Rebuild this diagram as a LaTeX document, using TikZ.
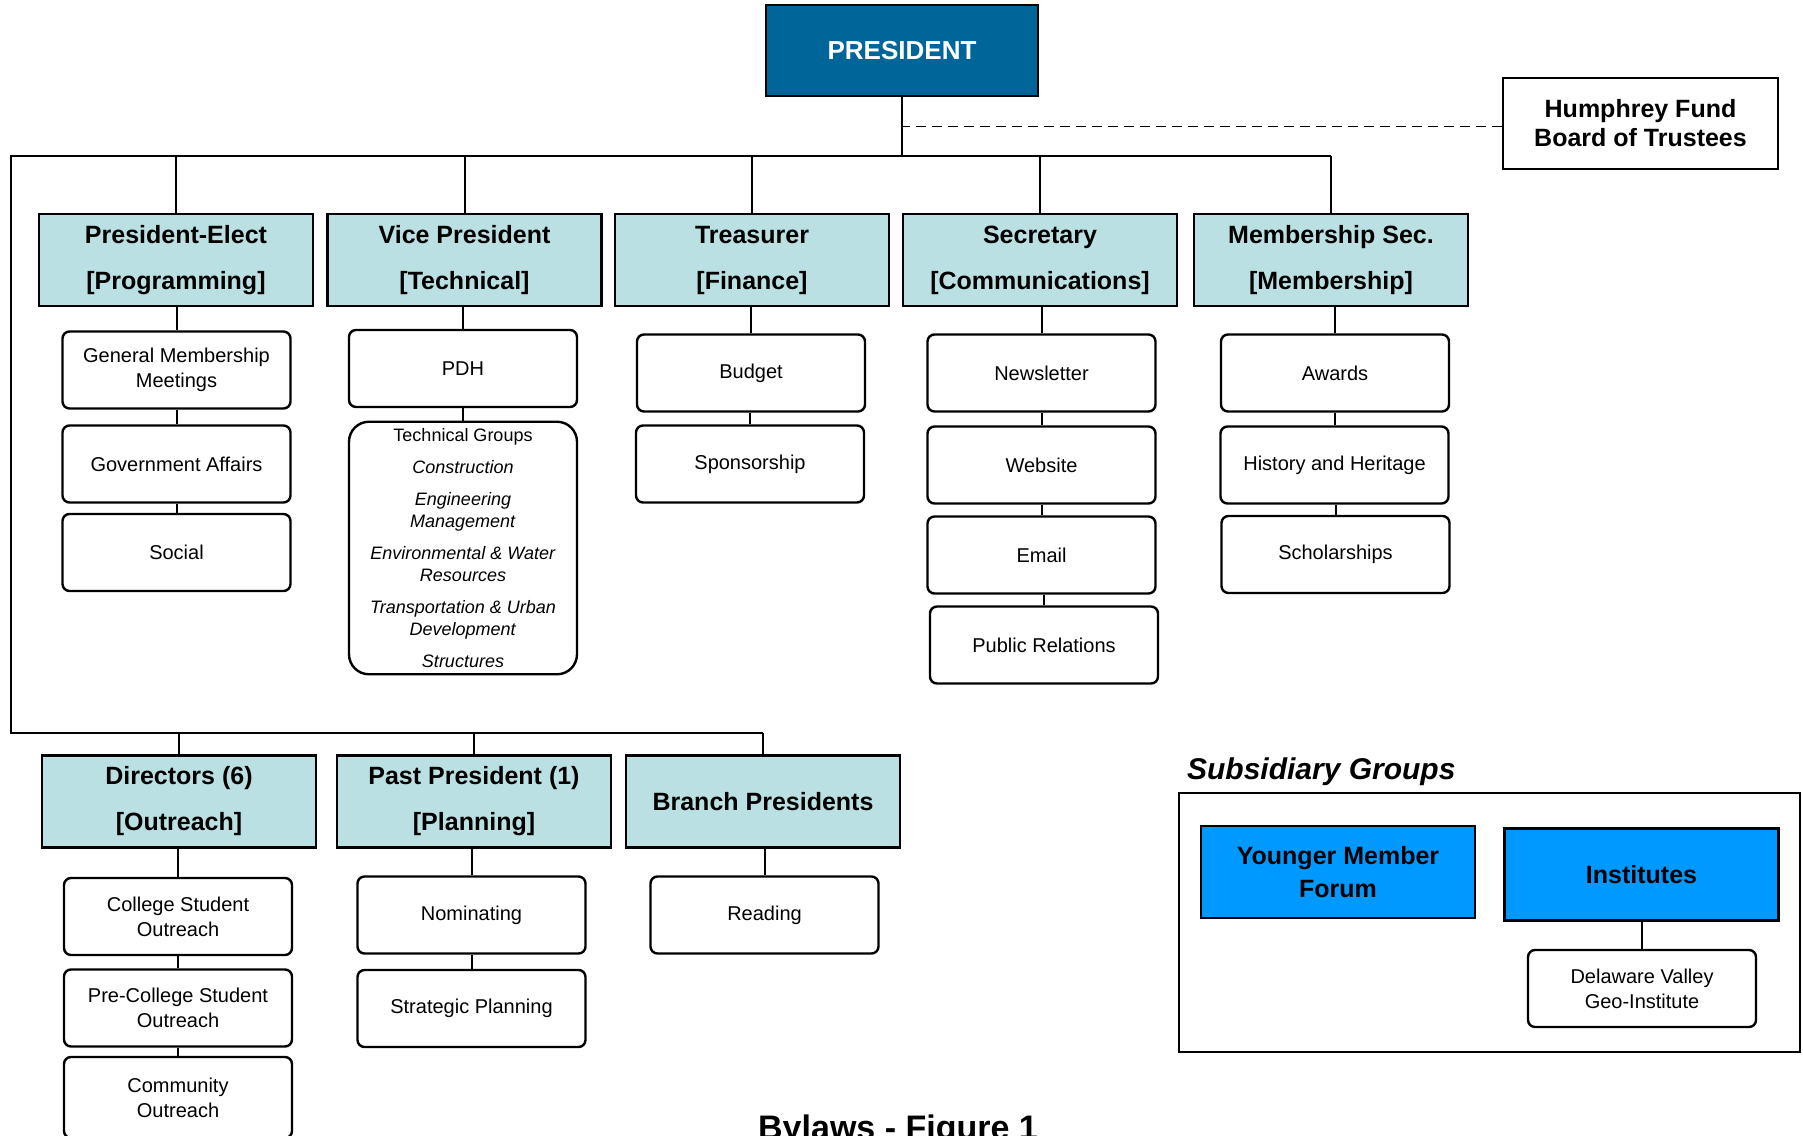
\documentclass[tikz,border=0pt]{standalone}
\usepackage{fontspec}
\setmainfont{Liberation Sans}

\definecolor{presblue}{RGB}{0,102,153}
\definecolor{headcyan}{RGB}{187,224,227}
\definecolor{groupblue}{RGB}{0,153,255}

\tikzset{
	wire/.style={line width=1pt},
	presbox/.style={draw,line width=1.2pt,fill=presblue,text=white,minimum width=136pt,minimum height=45.5pt,font=\fontsize{13}{16}\selectfont\bfseries},
	plainbox/.style={draw,line width=1.2pt,fill=white,minimum width=137.5pt,minimum height=45.5pt,align=center,font=\fontsize{12.5}{14.5}\selectfont\bfseries},
	headbox/.style={draw,line width=1.2pt,fill=headcyan,minimum width=137pt,minimum height=46pt,align=center,font=\fontsize{12.5}{23}\selectfont\bfseries},
	subbox/.style={draw,line width=1.2pt,rounded corners=3.5pt,minimum width=114pt,minimum height=38.5pt,align=center,font=\fontsize{10}{12.5}\selectfont},
	groupbox/.style={draw,line width=1.2pt,fill=groupblue,minimum width=137pt,minimum height=46pt,align=center,font=\fontsize{12.5}{16.5}\selectfont\bfseries}
}

\begin{document}
\begin{tikzpicture}[x=0.5pt,y=-0.5pt]
	\clip (0,0) rectangle (1803,1135);

	\node[presbox] (pres) at (902,50.5) {PRESIDENT};
	\node[plainbox] (hum) at (1640.5,123.5) {Humphrey Fund\\Board of Trustees};

	\node[headbox] (elect) at (176,260) {President-Elect\\{[Programming]}};
	\node[headbox] (vice) at (464.5,260) {Vice President\\{[Technical]}};
	\node[headbox] (treas) at (752,260) {Treasurer\\{[Finance]}};
	\node[headbox] (secr) at (1040,260) {Secretary\\{[Communications]}};
	\node[headbox] (memb) at (1331,260) {Membership Sec.\\{[Membership]}};

	\node[subbox] (gmm) at (176.5,370) {General Membership\\Meetings};
	\node[subbox] (gov) at (176.5,464) {Government Affairs};
	\node[subbox] (social) at (176.5,552.5) {Social};

	\node[subbox] (pdh) at (463,368.5) {PDH};
	\node[subbox,rounded corners=10pt,minimum height=125pt,font=\fontsize{9}{11}\selectfont] (tech) at (463,548) {Technical Groups\\[5pt]\textit{Construction}\\[5pt]\textit{Engineering}\\\textit{Management}\\[5pt]\textit{Environmental \& Water}\\\textit{Resources}\\[5pt]\textit{Transportation \& Urban}\\\textit{Development}\\[5pt]\textit{Structures}};

	\node[subbox] (budget) at (751,373) {Budget};
	\node[subbox] (spons) at (750,464) {Sponsorship};

	\node[subbox] (news) at (1041.5,373) {Newsletter};
	\node[subbox] (web) at (1041.5,465) {Website};
	\node[subbox] (email) at (1041.5,555) {Email};
	\node[subbox] (pr) at (1044,645) {Public Relations};

	\node[subbox] (awards) at (1335,373) {Awards};
	\node[subbox] (hist) at (1334.5,465) {History and Heritage};
	\node[subbox] (schol) at (1335.5,554.5) {Scholarships};

	\node[headbox] (dir) at (179,801.5) {Directors (6)\\{[Outreach]}};
	\node[headbox] (past) at (474,801.5) {Past President (1)\\{[Planning]}};
	\node[headbox] (branch) at (763,801.5) {Branch Presidents};

	\node[subbox] (college) at (178,916.5) {College Student\\Outreach};
	\node[subbox] (precol) at (178,1008) {Pre-College Student\\Outreach};
	\node[subbox,minimum height=40.5pt] (comm) at (178,1097.5) {Community\\Outreach};

	\node[subbox] (nomin) at (471.5,915) {Nominating};
	\node[subbox] (strat) at (471.5,1008.5) {Strategic Planning};

	\node[subbox] (reading) at (764.5,915) {Reading};

	\node[anchor=base west,font=\fontsize{15}{18}\selectfont\bfseries\itshape] (sublabel) at (1180,779) {Subsidiary Groups};
	\draw[line width=1.2pt] (1179,793) rectangle (1800,1052);
	\node[groupbox] (younger) at (1338,872) {Younger Member\\Forum};
	\node[groupbox] (inst) at (1641.5,874.5) {Institutes};
	\node[subbox] (delaware) at (1642,988.5) {Delaware Valley\\Geo-Institute};

	\node[anchor=base,font=\fontsize{17}{20}\selectfont\bfseries] (caption) at (898,1139) {Bylaws - Figure 1};

	\coordinate (top) at (11,156);
	\coordinate (bot) at (11,733);
	\coordinate (dashend) at ([yshift=-1.5pt]hum.west);
	\draw[wire] (memb.north |- top) -- (top) -- (bot) -- (branch.north |- bot);
	\draw[wire] (pres.south) -- (pres.south |- top);
	\draw[wire,dash pattern=on 5pt off 3pt,line width=0.8pt] (dashend) -- (dashend -| pres.south);

	\foreach \n in {elect,vice,treas,secr,memb}
		\draw[wire] (\n.north) -- (\n.north |- top);
	\foreach \n in {dir,past,branch}
		\draw[wire] (\n.north) -- (\n.north |- bot);

	\foreach \a/\b in {elect/gmm,gmm/gov,gov/social,vice/pdh,pdh/tech,treas/budget,budget/spons,secr/news,news/web,web/email,email/pr,memb/awards,awards/hist,hist/schol,dir/college,college/precol,precol/comm,past/nomin,nomin/strat,branch/reading,inst/delaware}
		\draw[wire] (\b.north) -- (\b.north |- \a.south);
\end{tikzpicture}
\end{document}
